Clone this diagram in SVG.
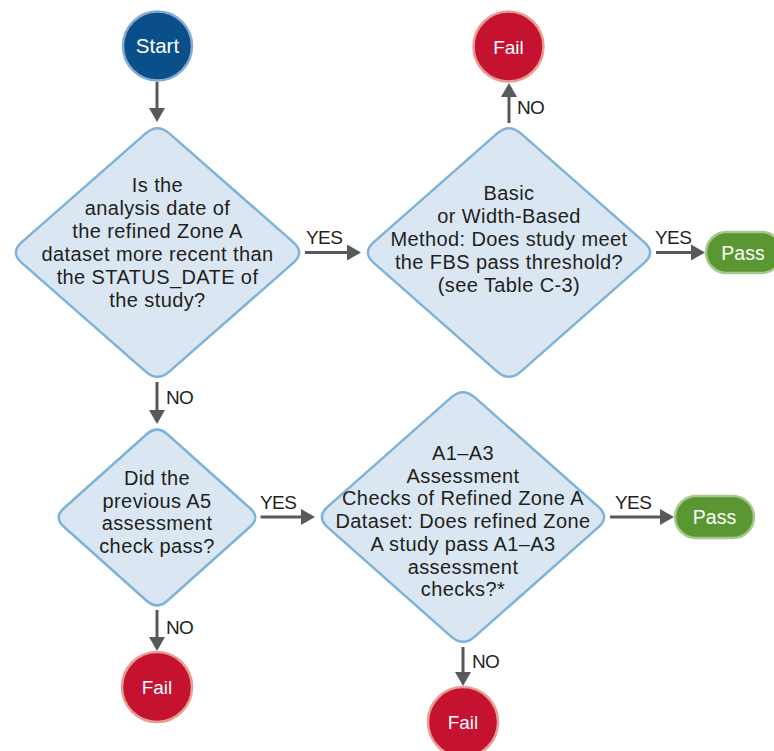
<svg xmlns="http://www.w3.org/2000/svg" width="774" height="751" viewBox="0 0 774 751">
  <style>
    .decision { fill: #dae6f2; stroke: #7db3d8; stroke-width: 2.5; }
    .start { fill: #0a4f8a; stroke: #86aad2; stroke-width: 2.5; }
    .fail { fill: #c41230; stroke: #e79c94; stroke-width: 2.5; }
    .pass { fill: #5a9632; stroke: #a8c98e; stroke-width: 2.5; }
    .q { font-family: "Liberation Sans", Arial, sans-serif; font-size: 20px; letter-spacing: 0.4px; fill: #231f20; text-anchor: middle; }
    .term { font-family: "Liberation Sans", Arial, sans-serif; fill: #ffffff; text-anchor: middle; }
    .lbl { font-family: "Liberation Sans", Arial, sans-serif; font-size: 19px; fill: #231f20; letter-spacing: -0.6px; }
    .edge { stroke: #58595b; stroke-width: 3; fill: none; marker-end: url(#arrow); }
  </style>
  <defs>
    <marker id="arrow" viewBox="0 0 14 16" refX="10" refY="8" markerWidth="14" markerHeight="16" markerUnits="userSpaceOnUse" orient="auto">
      <path d="M0,0 L14,8 L0,16 Z" fill="#58595b"/>
    </marker>
  </defs>

  <rect width="774" height="751" fill="#ffffff"/>

  <!-- connectors -->
  <g id="connectors">
    <line class="edge" x1="157" y1="82" x2="157" y2="118"/>
    <line class="edge" x1="305" y1="252.5" x2="357" y2="252.5"/>
    <line class="edge" x1="509" y1="123" x2="509" y2="87"/>
    <line class="edge" x1="656" y1="252.5" x2="701" y2="252.5"/>
    <line class="edge" x1="157" y1="382" x2="157" y2="420"/>
    <line class="edge" x1="260.5" y1="517" x2="311" y2="517"/>
    <line class="edge" x1="610" y1="517" x2="670" y2="517"/>
    <line class="edge" x1="157" y1="610" x2="157" y2="647"/>
    <line class="edge" x1="463" y1="647" x2="463" y2="682"/>
    <text class="lbl" x="306" y="244">YES</text>
    <text class="lbl" x="655" y="244">YES</text>
    <text class="lbl" x="517" y="114">NO</text>
    <text class="lbl" x="166" y="404">NO</text>
    <text class="lbl" x="260" y="509">YES</text>
    <text class="lbl" x="615" y="509">YES</text>
    <text class="lbl" x="166" y="634">NO</text>
    <text class="lbl" x="472" y="668">NO</text>
  </g>

  <!-- start -->
  <g id="start">
    <circle class="start" cx="157.5" cy="46" r="34.5"/>
    <text class="term" x="157.5" y="53" font-size="20.5">Start</text>
  </g>

  <!-- decision: analysis date -->
  <g id="q-analysis-date">
    <path class="decision" d="M 169.3,133.4 L 293.2,242.1 Q 305,252.5 293.2,262.9 L 169.3,371.6 Q 157.5,382 145.7,371.6 L 21.8,262.9 Q 10,252.5 21.8,242.1 L 145.7,133.4 Q 157.5,123 169.3,133.4 Z"/>
    <text class="q" x="157.5" y="192">Is the</text>
    <text class="q" x="157.5" y="215">analysis date of</text>
    <text class="q" x="157.5" y="238">the refined Zone A</text>
    <text class="q" x="157.5" y="261">dataset more recent than</text>
    <text class="q" x="157.5" y="284">the STATUS_DATE of</text>
    <text class="q" x="157.5" y="307">the study?</text>
  </g>

  <!-- decision: FBS threshold -->
  <g id="q-fbs-threshold">
    <path class="decision" d="M 520.8,133.4 L 644.2,242.1 Q 656,252.5 644.2,262.9 L 520.8,371.6 Q 509,382 497.2,371.6 L 373.8,262.9 Q 362,252.5 373.8,242.1 L 497.2,133.4 Q 509,123 520.8,133.4 Z"/>
    <text class="q" x="509" y="200">Basic</text>
    <text class="q" x="509" y="223">or Width-Based</text>
    <text class="q" x="509" y="246">Method: Does study meet</text>
    <text class="q" x="509" y="269">the FBS pass threshold?</text>
    <text class="q" x="509" y="292">(see Table C-3)</text>
  </g>

  <!-- fail (top) -->
  <g id="fail-top">
    <circle class="fail" cx="508.5" cy="46.5" r="35"/>
    <text class="term" x="508.5" y="53.5" font-size="19">Fail</text>
  </g>

  <!-- pass (top) -->
  <g id="pass-top">
    <rect class="pass" x="706" y="232" width="76" height="41" rx="20.5"/>
    <text class="term" x="743" y="259.5" font-size="19.5">Pass</text>
  </g>

  <!-- decision: previous A5 -->
  <g id="q-previous-a5">
    <path class="decision" d="M 167.4,434.3 L 250.1,508.2 Q 260.5,517.5 250.1,526.8 L 167.4,600.7 Q 157,610 146.6,600.7 L 63.9,526.8 Q 53.5,517.5 63.9,508.2 L 146.6,434.3 Q 157,425 167.4,434.3 Z"/>
    <text class="q" x="157" y="485">Did the</text>
    <text class="q" x="157" y="508">previous A5</text>
    <text class="q" x="157" y="530">assessment</text>
    <text class="q" x="157" y="553">check pass?</text>
  </g>

  <!-- decision: A1-A3 checks -->
  <g id="q-a1-a3">
    <path class="decision" d="M 474.8,397.4 L 598.2,506.6 Q 610,517 598.2,527.4 L 474.8,636.6 Q 463,647 451.2,636.6 L 327.8,527.4 Q 316,517 327.8,506.6 L 451.2,397.4 Q 463,387 474.8,397.4 Z"/>
    <text class="q" x="463" y="460">A1–A3</text>
    <text class="q" x="463" y="483">Assessment</text>
    <text class="q" x="463" y="505">Checks of Refined Zone A</text>
    <text class="q" x="463" y="528">Dataset: Does refined Zone</text>
    <text class="q" x="463" y="551">A study pass A1–A3</text>
    <text class="q" x="463" y="574">assessment</text>
    <text class="q" x="463" y="596">checks?*</text>
  </g>

  <!-- pass (bottom) -->
  <g id="pass-bottom">
    <rect class="pass" x="675" y="496" width="79" height="42" rx="21"/>
    <text class="term" x="714.5" y="524" font-size="19.5">Pass</text>
  </g>

  <!-- fail (bottom left) -->
  <g id="fail-left">
    <circle class="fail" cx="157" cy="687" r="35"/>
    <text class="term" x="157" y="694" font-size="19">Fail</text>
  </g>

  <!-- fail (bottom right) -->
  <g id="fail-right">
    <circle class="fail" cx="463" cy="722" r="35"/>
    <text class="term" x="463" y="729" font-size="19">Fail</text>
  </g>
</svg>
